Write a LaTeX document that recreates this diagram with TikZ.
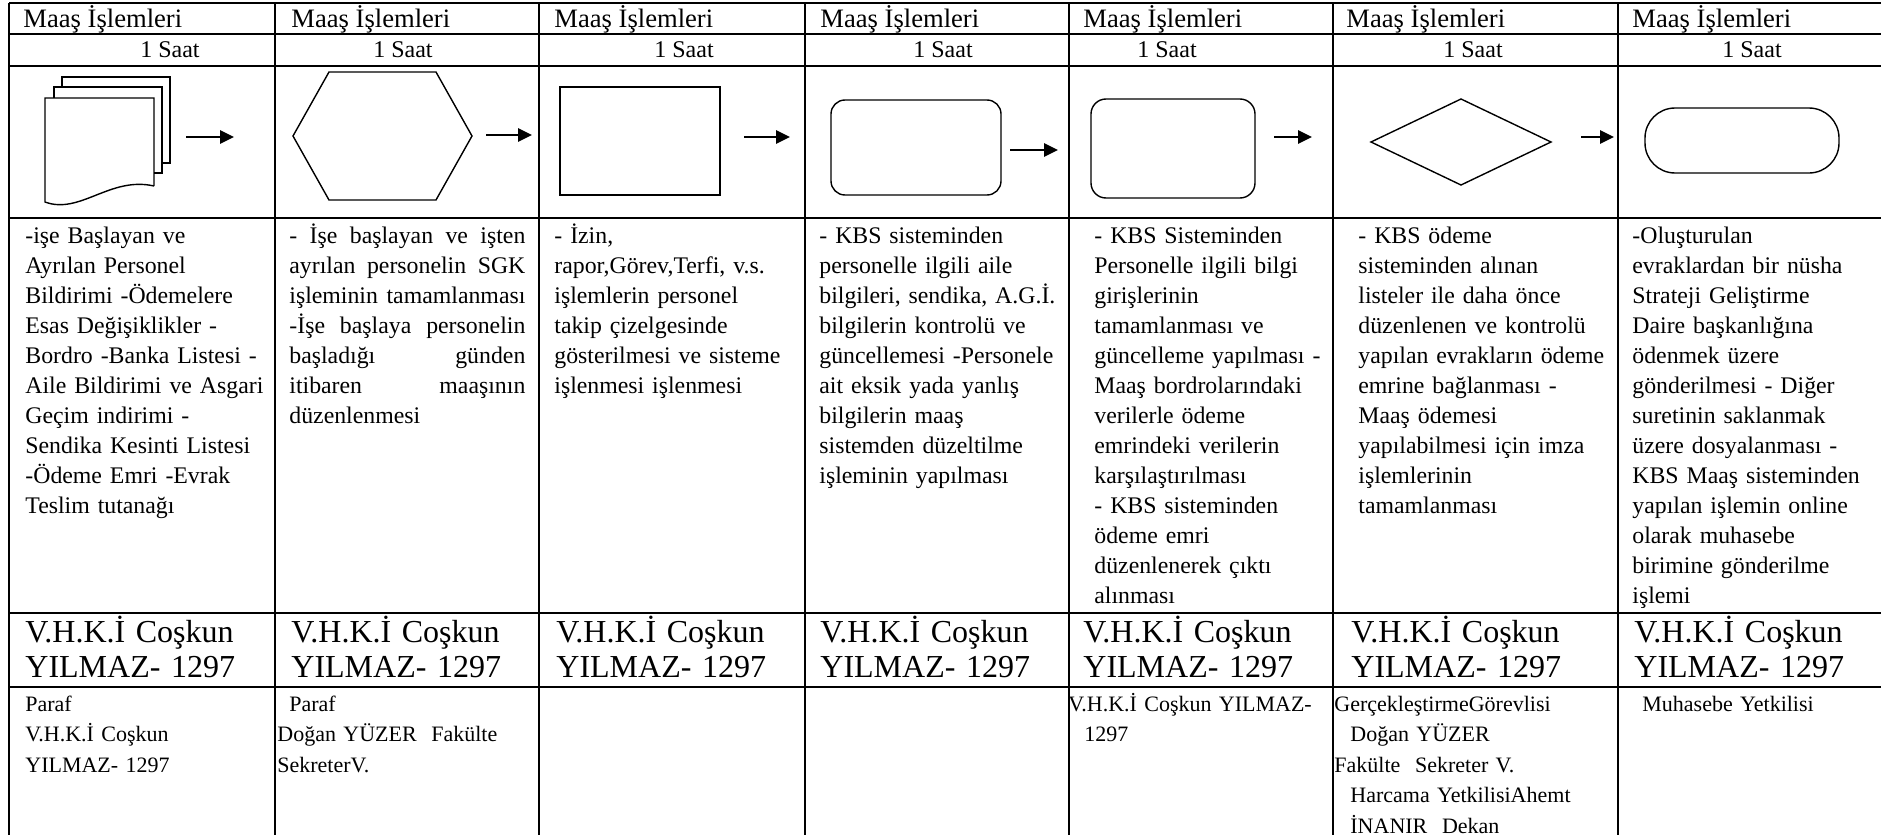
\documentclass[tikz,border=0pt]{standalone}
\usepackage{fontspec}
\setmainfont{Liberation Serif}
\usetikzlibrary{arrows.meta,positioning}
\newcommand{\yasla}[1]{\makebox[118pt][s]{\spaceskip=.25em plus 20em\relax #1}}
\tikzset{
  baslik/.style={
    anchor=base west,
    inner sep=0pt,
    font=\fontsize{13.3}{15}\selectfont
  },
  sure/.style={
    anchor=base,
    inner sep=0pt,
    font=\fontsize{12}{14}\selectfont
  },
  aciklama/.style={
    anchor=base west,
    inner sep=0pt,
    align=left,
    text width=130pt,
    font=\fontsize{11.9}{15}\selectfont
  },
  imza/.style={
    anchor=base west,
    inner sep=0pt,
    align=left,
    text width=125pt,
    font=\fontsize{16}{17.5}\selectfont
  },
  onay/.style={
    anchor=base west,
    inner sep=0pt,
    align=left,
    text width=130pt,
    font=\fontsize{11}{15.3}\selectfont
  },
  sekil/.style={
    draw,
    line width=.7pt,
    inner sep=0pt
  },
  cizgi/.style={
    line width=1pt
  },
  arrow/.style={
    -{Triangle[length=7pt,width=6.5pt]},
    line width=1.3pt
  }
}

\begin{document}
\begin{tikzpicture}[x=.5pt,y=-.5pt]
\useasboundingbox (0,0) rectangle (1881,835);

% tablo
\draw[cizgi] (9,3) -- (1881,3);
\draw[cizgi] (9,34) -- (1881,34);
\draw[cizgi] (9,66) -- (1881,66);
\draw[cizgi] (9,218) -- (1881,218);
\draw[cizgi] (9,613) -- (1881,613);
\draw[cizgi] (9,687) -- (1881,687);
\draw[cizgi] (9,3) -- (9,835);
\draw[cizgi] (275,3) -- (275,835);
\draw[cizgi] (539,3) -- (539,835);
\draw[cizgi] (805,3) -- (805,835);
\draw[cizgi] (1069,3) -- (1069,835);
\draw[cizgi] (1333,3) -- (1333,835);
\draw[cizgi] (1618,3) -- (1618,835);

% basliklar
\node[baslik] (b1) at (23,27) {Maaş İşlemleri};
\node[baslik] (b2) at (291,27) {Maaş İşlemleri};
\node[baslik] (b3) at (554,27) {Maaş İşlemleri};
\node[baslik] (b4) at (820,27) {Maaş İşlemleri};
\node[baslik] (b5) at (1083,27) {Maaş İşlemleri};
\node[baslik] (b6) at (1346,27) {Maaş İşlemleri};
\node[baslik] (b7) at (1632,27) {Maaş İşlemleri};

\node[sure] (s1) at (170,57) {1 Saat};
\node[sure] (s2) at (403,57) {1 Saat};
\node[sure] (s3) at (684,57) {1 Saat};
\node[sure] (s4) at (943,57) {1 Saat};
\node[sure] (s5) at (1167,57) {1 Saat};
\node[sure] (s6) at (1473,57) {1 Saat};
\node[sure] (s7) at (1752,57) {1 Saat};

% sekiller
\draw[sekil] (62,87) -- (62,77) -- (170,77) -- (170,163) -- (162,163);
\draw[sekil] (54,98) -- (54,87) -- (162,87) -- (162,173) -- (154,173);
\draw[sekil] (154,186) -- (154,98) -- (45,98) -- (45,202) .. controls (80,215) and (110,176) .. (154,186);
\draw[sekil] (329,72) -- (436,72) -- (472,136) -- (436,200) -- (329,200) -- (293,136) -- cycle;
\node[sekil, minimum width=80pt, minimum height=54pt] (dikdortgen) at (640,141) {};
\node[sekil, rounded corners=7pt, minimum width=85pt, minimum height=47.5pt] (kutu1) at (916,147.5) {};
\node[sekil, rounded corners=7.5pt, minimum width=82pt, minimum height=49.5pt] (kutu2) at (1173,148.5) {};
\draw[sekil] (1371,142) -- (1461,99) -- (1551,142) -- (1461,185) -- cycle;
\node[sekil, rounded corners=15pt, minimum width=97pt, minimum height=32.5pt] (bitis) at (1742,140.5) {};

% oklar
\coordinate (o1a) at (186,137);
\coordinate (o1b) at (234,137);
\coordinate (o2a) at (486,135);
\coordinate (o2b) at (532,135);
\coordinate (o3a) at (744,137);
\coordinate (o3b) at (790,137);
\coordinate (o4a) at (1010,150);
\coordinate (o4b) at (1058,150);
\coordinate (o5a) at (1274,137);
\coordinate (o5b) at (1312,137);
\coordinate (o6a) at (1581,137);
\coordinate (o6b) at (1614,137);
\draw[arrow] (o1a) -- (o1b);
\draw[arrow] (o2a) -- (o2b);
\draw[arrow] (o3a) -- (o3b);
\draw[arrow] (o4a) -- (o4b);
\draw[arrow] (o5a) -- (o5b);
\draw[arrow] (o6a) -- (o6b);

% aciklamalar
\node[aciklama] (a1) at (25,243) {-işe Başlayan ve\\Ayrılan Personel\\Bildirimi -Ödemelere\\Esas Değişiklikler -\\Bordro -Banka Listesi -\\Aile Bildirimi ve Asgari\\Geçim indirimi -\\Sendika Kesinti Listesi\\-Ödeme Emri -Evrak\\Teslim tutanağı};
\node[aciklama, text width=118pt] (a2) at (289,243) {\yasla{- İşe başlayan ve işten}\\\yasla{ayrılan personelin SGK}\\\yasla{işleminin tamamlanması}\\\yasla{-İşe başlaya personelin}\\\yasla{başladığı günden}\\\yasla{itibaren maaşının}\\düzenlenmesi};
\node[aciklama] (a3) at (554,243) {- İzin,\\rapor,Görev,Terfi, v.s.\\işlemlerin personel\\takip çizelgesinde\\gösterilmesi ve sisteme\\işlenmesi işlenmesi};
\node[aciklama] (a4) at (819,243) {- KBS sisteminden\\personelle ilgili aile\\bilgileri, sendika, A.G.İ.\\bilgilerin kontrolü ve\\güncellemesi -Personele\\ait eksik yada yanlış\\bilgilerin maaş\\sistemden düzeltilme\\işleminin yapılması};
\node[aciklama] (a5) at (1094,243) {- KBS Sisteminden\\Personelle ilgili bilgi\\girişlerinin\\tamamlanması ve\\güncelleme yapılması -\\Maaş bordrolarındaki\\verilerle ödeme\\emrindeki verilerin\\karşılaştırılması\\- KBS sisteminden\\ödeme emri\\düzenlenerek çıktı\\alınması};
\node[aciklama] (a6) at (1358,243) {- KBS ödeme\\sisteminden alınan\\listeler ile daha önce\\düzenlenen ve kontrolü\\yapılan evrakların ödeme\\emrine bağlanması -\\Maaş ödemesi\\yapılabilmesi için imza\\işlemlerinin\\tamamlanması};
\node[aciklama] (a7) at (1632,243) {-Oluşturulan\\evraklardan bir nüsha\\Strateji Geliştirme\\Daire başkanlığına\\ödenmek üzere\\gönderilmesi - Diğer\\suretinin saklanmak\\üzere dosyalanması -\\KBS Maaş sisteminden\\yapılan işlemin online\\olarak muhasebe\\birimine gönderilme\\işlemi};

% sorumlular
\node[imza] (i1) at (25,642) {V.H.K.İ Coşkun\\YILMAZ- 1297};
\node[imza] (i2) at (291,642) {V.H.K.İ Coşkun\\YILMAZ- 1297};
\node[imza] (i3) at (556,642) {V.H.K.İ Coşkun\\YILMAZ- 1297};
\node[imza] (i4) at (820,642) {V.H.K.İ Coşkun\\YILMAZ- 1297};
\node[imza] (i5) at (1083,642) {V.H.K.İ Coşkun\\YILMAZ- 1297};
\node[imza] (i6) at (1351,642) {V.H.K.İ Coşkun\\YILMAZ- 1297};
\node[imza] (i7) at (1634,642) {V.H.K.İ Coşkun\\YILMAZ- 1297};

% onaylar
\node[onay] (p1) at (25,711) {Paraf\\V.H.K.İ Coşkun\\YILMAZ- 1297};
\node[onay] (p2) at (277,711) {\hspace*{6pt}Paraf\\Doğan YÜZER\ \ Fakülte\\SekreterV.};
\node[onay] (p5) at (1068,711) {V.H.K.İ Coşkun YILMAZ-\\\hspace*{8pt}1297};
\node[onay] (p6) at (1334,711) {GerçekleştirmeGörevlisi\\\hspace*{8pt}Doğan YÜZER\\Fakülte\ \ Sekreter V.\\\hspace*{8pt}Harcama YetkilisiAhemt\\\hspace*{8pt}İNANIR\ \ Dekan};
\node[onay] (p7) at (1642,711) {Muhasebe Yetkilisi};
\end{tikzpicture}
\end{document}
